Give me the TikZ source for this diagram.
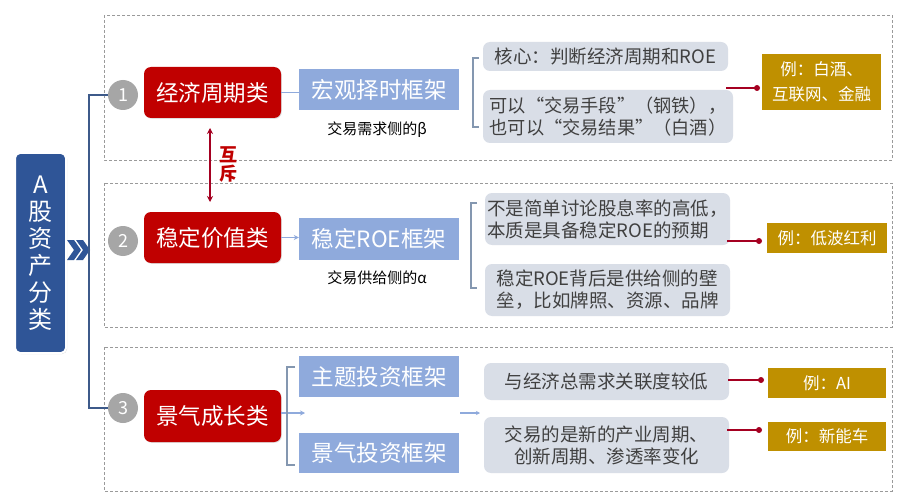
\documentclass[tikz,border=0pt]{standalone}
\usepackage{fontspec}
\setmainfont{Noto Sans CJK SC}
\usetikzlibrary{shadows,arrows.meta}
\definecolor{cRed}{HTML}{C00000}
\definecolor{cBlue}{HTML}{8FAADC}
\definecolor{cDark}{HTML}{2F5597}
\definecolor{cVline}{HTML}{3D5A8A}
\definecolor{cGray}{HTML}{D9DEE7}
\definecolor{cText}{HTML}{404040}
\definecolor{cGold}{HTML}{BF9000}
\definecolor{cNum}{HTML}{A6A6A6}
\definecolor{cDash}{HTML}{9A9A9A}
\definecolor{cBrk}{HTML}{8497B0}
\definecolor{cRedLine}{HTML}{A50021}
\tikzset{
 panel/.style={draw=cDash, dash pattern=on 3pt off 2pt, line width=0.7pt},
 redbox/.style={fill=cRed, rounded corners=7pt, text=white, minimum width=137pt, minimum height=51pt, inner sep=0pt, font=\fontsize{22.5}{26}\selectfont, drop shadow={opacity=0.25,shadow xshift=0.8pt,shadow yshift=-0.8pt}},
 bluebox/.style={fill=cBlue, text=white, minimum width=160pt, minimum height=41pt, inner sep=0pt, font=\fontsize{22.5}{26}\selectfont},
 graybox/.style={fill=cGray, rounded corners=7pt, text=cText, inner sep=0pt, minimum width=245pt, font=\fontsize{18.5}{22}\selectfont},
 goldbox/.style={fill=cGold, text=white, inner sep=0pt, minimum width=119pt, font=\fontsize{16.5}{25}\selectfont, align=center},
 numc/.style={circle, fill=cNum, text=white, minimum size=30pt, inner sep=0pt, font=\fontsize{18}{18}\selectfont},
 subt/.style={font=\fontsize{15}{16}\selectfont, text=black, inner sep=0pt},
 feed/.style={draw=cBlue, line width=1.5pt},
 brk/.style={draw=cBrk, line width=1.5pt},
 redln/.style={draw=cRedLine, line width=1.5pt},
 tipb/.style={-{Stealth[length=5pt,width=5pt]}},
}
\begin{document}
\begin{tikzpicture}[x=1pt,y=-1pt]
\useasboundingbox (0,0) rectangle (897,500);
\fill[white] (0,0) rectangle (897,500);

% panels
\draw[panel] (104,15) rectangle (892,160);
\draw[panel] (104,183) rectangle (892,327);
\draw[panel] (104,347) rectangle (892,491);

% left main box
\node[fill=cDark, draw=white, line width=2pt, rounded corners=5pt, minimum width=51pt, minimum height=200pt, inner sep=0pt, text=white, align=center, font=\fontsize{24}{27}\selectfont, drop shadow={opacity=0.3,shadow xshift=1pt,shadow yshift=-1pt}] (A) at (40.5,253) {A\\股\\资\\产\\分\\类};

% chevrons
\fill[cDark] (67,240) -- (74,240) -- (81,250) -- (74,260) -- (67,260) -- (74,250) -- cycle;
\fill[cDark] (76,240) -- (83,240) -- (90,250) -- (83,260) -- (76,260) -- (83,250) -- cycle;

% numbered circles
\node[numc] (n1) at (123,95) {1};
\node[numc] (n2) at (123,241) {2};
\node[numc] (n3) at (123,408) {3};

% trunk line
\coordinate (vt) at (89,95);
\coordinate (vb) at (89,408);
\draw[cVline, line width=2pt] (n1.west) -- (vt) -- (vb) -- (n3.west);

% red category boxes
\node[redbox] (r1) at (212.5,92.5) {经济周期类};
\node[redbox] (r2) at (212.5,237.5) {稳定价值类};
\node[redbox, minimum height=52pt] (r3) at (212.5,416) {景气成长类};

% blue framework boxes
\node[bluebox] (b1) at (379,89.5) {宏观择时框架};
\node[bluebox, minimum height=42pt] (b2) at (379,239) {稳定ROE框架};
\node[bluebox] (b3a) at (379,376.5) {主题投资框架};
\node[bluebox, minimum height=40pt] (b3b) at (379,453) {景气投资框架};

% subtitles
\node[subt] (s1) at (377,130) {交易需求侧的β};
\node[subt] (s2) at (377,278) {交易供给侧的α};

% red -> blue connectors
\draw[feed] (r1.east) -- (r1.east -| b1.west);
\draw[feed, tipb] (r2.east) -- (r2.east -| b2.west);
\coordinate (k3) at (305,413);
\draw[feed, tipb] (r3.east |- k3) -- (k3);

% mutual exclusion arrow
\coordinate (mx1) at (210,128);
\coordinate (mx2) at (210,202);
\draw[cRedLine, line width=1.5pt, {Stealth[length=6pt,width=6pt]}-{Stealth[length=6pt,width=6pt]}] (mx1) -- (mx2);
\node[text=cRed, font=\bfseries\fontsize{18}{19}\selectfont, align=center, inner sep=0pt] (mx) at (228,165) {互\\斥};

% brackets
\draw[brk] (479,58) -- (473,58) -- (473,127) -- (479,127);
\draw[brk] (477,203) -- (471,203) -- (471,288) -- (477,288);
\draw[brk] (295,367) -- (287,367) -- (287,465) -- (295,465);

% gray description boxes
\node[graybox, minimum height=29pt] (g1a) at (605.5,56.5) {核心：判断经济周期和ROE};
\node[graybox, minimum width=250pt, minimum height=53pt, align=left, font=\fontsize{18.2}{21.5}\selectfont] (g1b) at (608,116.5) {可以“交易手段”（钢铁），\\也可以“交易结果”（白酒）};
\node[graybox, minimum height=52pt, align=left] (g2a) at (607.5,219) {不是简单讨论股息率的高低，\\本质是具备稳定ROE的预期};
\node[graybox, minimum height=52pt, align=left] (g2b) at (607.5,290) {稳定ROE背后是供给侧的壁\\垒，比如牌照、资源、品牌};
\node[graybox, minimum height=37pt] (g3a) at (606.5,381.5) {与经济总需求关联度较低};
\node[graybox, minimum height=56pt, align=center] (g3b) at (606.5,445) {交易的是新的产业周期、\\创新周期、渗透率变化};

% small arrow section 3
\coordinate (q1) at (460,413);
\coordinate (q2) at (480,413);
\draw[feed, line width=1.2pt, -{Stealth[length=4pt,width=4pt]}] (q1) -- (q2);

% gold example boxes
\node[goldbox, minimum height=56pt] (o1) at (821.5,82) {例：白酒、\\互联网、金融};
\node[goldbox, minimum width=120pt, minimum height=30pt] (o2) at (827,238) {例：低波红利};
\node[goldbox, minimum width=118pt, minimum height=30pt] (o3) at (827,383) {例：AI};
\node[goldbox, minimum width=118pt, minimum height=29pt] (o4) at (827,436.5) {例：新能车};

% red pointers
\coordinate (p1s) at (726,88);  \coordinate (p1e) at (757,88);
\coordinate (p2s) at (727,241); \coordinate (p2e) at (759,241);
\coordinate (p3s) at (728,380); \coordinate (p3e) at (761,380);
\coordinate (p4s) at (727,430); \coordinate (p4e) at (759,430);
\foreach \s/\e in {p1s/p1e,p2s/p2e,p3s/p3e,p4s/p4e}{
  \draw[redln] (\s) -- (\e);
  \fill[cRedLine] (\e) circle (3pt);
}
\end{tikzpicture}
\end{document}
